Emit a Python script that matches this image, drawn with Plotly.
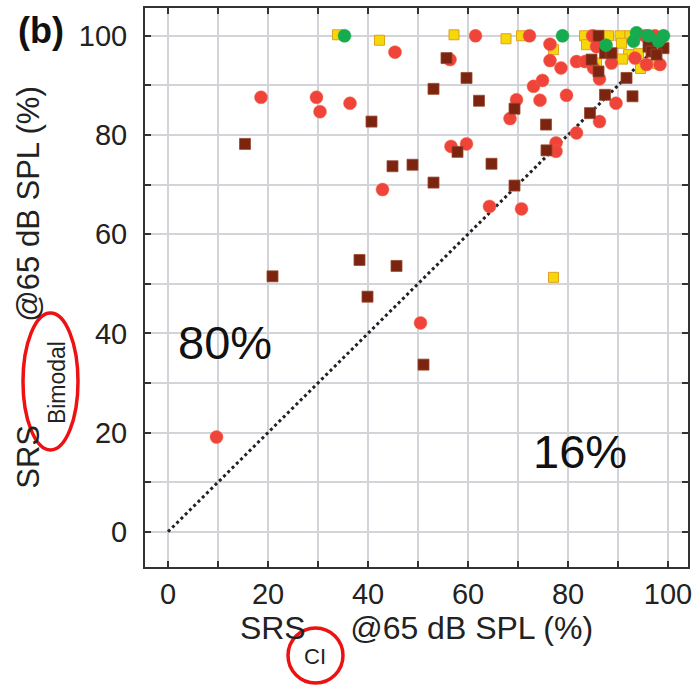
import plotly.graph_objects as go

# Red circles
red_x = [45.4, 18.6, 29.7, 30.4, 36.4, 42.9, 61.5, 72.3, 84.9, 95.4, 97.4, 76.4, 85.7, 56.4, 76.4, 78.6,
         81.7, 83.4, 85.1, 86.3, 88.7, 93.4, 95.7, 98.4, 73.1, 74.9, 69.7, 74.4, 79.7, 89.6, 68.4, 86.3,
         81.7, 56.6, 59.7, 77.6, 77.6, 64.3, 70.7, 50.5, 9.7]
red_y = [96.7, 87.6, 87.6, 84.7, 86.4, 69.0, 100, 100, 100, 100, 100, 98.3, 97.8, 95.2, 95.0, 93.5,
         94.8, 94.8, 93.5, 91.3, 94.5, 95.5, 94.2, 94.2, 89.8, 91.0, 87.1, 87.0, 88.0, 86.4, 83.3, 82.7,
         80.4, 77.7, 78.2, 78.4, 76.7, 65.6, 65.1, 42.1, 19.1]

# Brown squares
brown_x = [40.7, 15.4, 44.9, 48.9, 86.1, 87.4, 88.7, 96.1, 96.7, 99.1, 97.7, 55.7, 84.7, 86.1, 59.7, 91.7,
           53.1, 62.2, 69.3, 87.4, 92.9, 75.6, 84.4, 57.9, 75.7, 64.7, 53.1, 69.3, 38.3, 45.7, 20.9, 39.9, 51.1]
brown_y = [82.7, 78.2, 73.7, 74.0, 100, 96.5, 96.5, 97.8, 96.8, 97.5, 96.2, 95.5, 95.2, 92.8, 91.5, 91.5,
           89.3, 86.9, 85.3, 88.1, 87.8, 82.1, 84.4, 76.6, 76.9, 74.2, 70.4, 69.8, 54.8, 53.6, 51.5, 47.4, 33.7]

# Yellow squares
yellow_x = [33.9, 42.3, 57.2, 67.6, 70.7, 83.3, 88.1, 90.4, 92.4, 83.7, 90.7, 77.1, 92.1, 94.1, 85.7, 90.9,
            94.5, 97.9, 77.1]
yellow_y = [100.2, 99.1, 100.2, 99.4, 100, 100, 100, 100, 100, 98.2, 98.5, 97.2, 96.2, 96.4, 94.5, 95.3,
            93.4, 94.4, 51.3]

# Green circles
green_x = [35.3, 78.9, 93.7, 96.1, 99.1, 93.1, 98.1, 87.6]
green_y = [100, 100, 100.6, 100, 100, 98.9, 98.9, 98.1]

diag = [0, 100]
tick_vals = [0, 10, 20, 30, 40, 50, 60, 70, 80, 90, 100]
tick_text = ["0", "", "20", "", "40", "", "60", "", "80", "", "100"]

FONT = "Liberation Sans, Arial, sans-serif"
NB = "&nbsp;"

fig = go.Figure()
fig.add_trace(go.Scatter(x=diag, y=diag, mode="lines",
                         line=dict(color="#222222", width=3, dash="dot"), hoverinfo="skip"))
fig.add_trace(go.Scatter(x=yellow_x, y=yellow_y, mode="markers",
                         marker=dict(symbol="square", size=10, color="#f6d80a",
                                     line=dict(color="#e0a020", width=1))))
fig.add_trace(go.Scatter(x=red_x, y=red_y, mode="markers",
                         marker=dict(symbol="circle", size=13, color="#f0433a",
                                     line=dict(color="#f06a4a", width=0.5))))
fig.add_trace(go.Scatter(x=brown_x, y=brown_y, mode="markers",
                         marker=dict(symbol="square", size=11, color="#7b2410",
                                     line=dict(color="#9a4a30", width=0.8))))
fig.add_trace(go.Scatter(x=green_x, y=green_y, mode="markers",
                         marker=dict(symbol="circle", size=13, color="#17ab4f",
                                     line=dict(color="#17ab4f", width=0.5))))

axis_common = dict(
    tickvals=tick_vals, ticktext=tick_text,
    ticks="inside", ticklen=6, tickwidth=2, tickcolor="#333333",
    showgrid=True, gridcolor="#d2d4da", gridwidth=1.5,
    showline=True, linecolor="#333333", linewidth=2, mirror="ticks",
    zeroline=False, automargin=False,
    tickfont=dict(family=FONT, size=29, color="#222222"),
)

fig.update_xaxes(range=[-4.6, 104], **axis_common,
                 title=dict(text="SRS" + NB * 5 + "@65 dB SPL (%)", standoff=8,
                            font=dict(family=FONT, size=32, color="#222222")))
fig.update_yaxes(range=[-7.1, 105.6], ticklabelstandoff=10, **axis_common,
                 title=dict(text="SRS" + NB * 12 + "@65 dB SPL (%)", standoff=30,
                            font=dict(family=FONT, size=31, color="#222222")))

# subscripts of the axis titles
fig.add_annotation(x=0.313, y=-0.161, xref="paper", yref="paper", text="CI", showarrow=False,
                   xanchor="center", yanchor="middle",
                   font=dict(family=FONT, size=22, color="#222222"))
fig.add_annotation(x=-0.1620, y=0.329, xref="paper", yref="paper", text="Bimodal", showarrow=False,
                   textangle=-90, xanchor="center", yanchor="middle",
                   font=dict(family=FONT, size=23, color="#222222"))

fig.add_annotation(x=11.4, y=38.1, xref="x", yref="y", text="80%", showarrow=False,
                   xanchor="center", yanchor="middle",
                   font=dict(family=FONT, size=47, color="#111111"))
fig.add_annotation(x=82.4, y=16.1, xref="x", yref="y", text="16%", showarrow=False,
                   xanchor="center", yanchor="middle",
                   font=dict(family=FONT, size=47, color="#111111"))
fig.add_annotation(x=-0.1915, y=0.9606, xref="paper", yref="paper", text="<b>(b)</b>", showarrow=False,
                   xanchor="center", yanchor="middle",
                   font=dict(family=FONT, size=36, color="#111111"))

fig.add_shape(type="circle", xref="paper", yref="paper", x0=-0.2247, x1=-0.1234, y0=0.2093, y1=0.4544,
              line=dict(color="#ee1111", width=3.5))
fig.add_shape(type="circle", xref="paper", yref="paper", x0=0.2634, x1=0.3646, y0=-0.2075, y1=-0.1091,
              line=dict(color="#ee1111", width=3.5))

fig.update_layout(
    width=693, height=685,
    margin=dict(l=145, r=5, t=8, b=118),
    paper_bgcolor="white", plot_bgcolor="white",
    showlegend=False,
)

fig.write_html("out.html", config={"displayModeBar": False},
               post_script="document.body.style.margin='0';")
